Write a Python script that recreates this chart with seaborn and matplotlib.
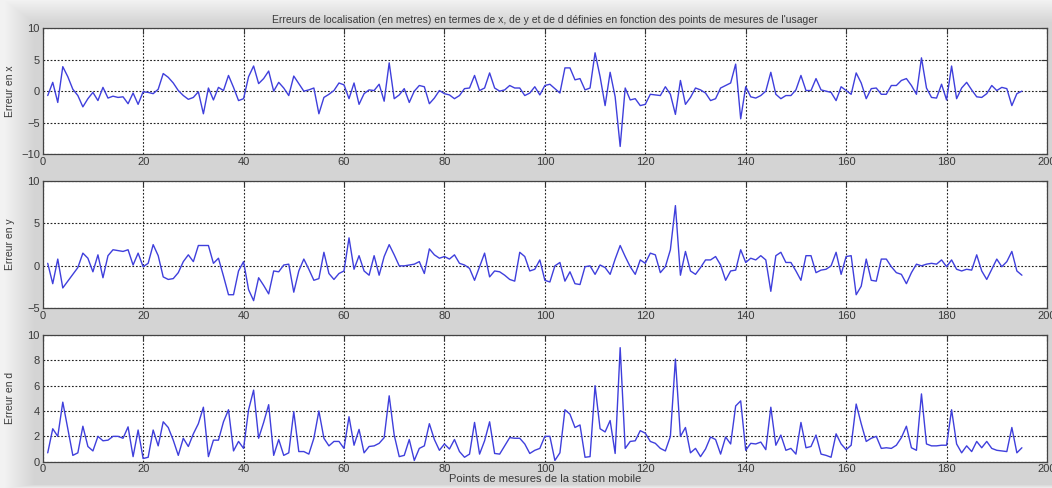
import numpy as np
import pandas as pd
import matplotlib
matplotlib.use("Agg")
import matplotlib.pyplot as plt
import seaborn as sns

# Localisation errors (metres) per measurement point of the mobile station
points = list(range(1, 196))

err_x = [
    -0.7, 1.4, -1.8, 3.9, 2.3, 0.3, -0.7, -2.5, -1.2, -0.2,
    -1.5, 0.6, -1.1, -0.8, -1.0, -0.9, -2.0, -0.3, -2.1, -0.1,
    -0.2, -0.4, 0.3, 2.8, 2.2, 1.3, 0.1, -0.7, -1.3, -1.0,
    -0.1, -3.6, 0.5, -1.4, 0.6, 0.1, 2.5, 0.6, -1.5, -1.2,
    2.3, 4.0, 1.2, 2.0, 3.2, 0.0, 1.4, 0.5, -0.7, 2.4,
    1.2, 0.0, 0.2, 0.5, -3.6, -1.0, -0.5, 0.1, 1.3, 1.0,
    -1.2, 1.3, -2.1, -0.4, 0.2, 0.1, 1.1, -1.6, 4.5, -1.2,
    -0.6, 0.4, -1.8, 0.0, 0.9, 0.7, -2.0, -1.1, 0.1, -0.4,
    -0.6, -1.2, -0.7, 0.4, 0.5, 2.5, 0.1, 0.5, 2.9, 0.5,
    0.0, 0.2, 0.9, 0.5, 0.5, -0.7, -0.3, 0.7, -0.6, 0.9,
    1.1, 0.4, -0.3, 3.7, 3.7, 1.8, 2.0, 0.2, 0.5, 6.1,
    2.3, -2.3, 3.0, -0.9, -8.8, 0.5, -1.4, -1.2, -2.3, -2.1,
    -0.5, -0.6, -0.7, 0.7, -0.5, -3.7, 1.7, -2.1, -1.0, 0.5,
    0.2, -0.3, -1.5, -1.2, 0.5, 0.9, 1.3, 4.3, -4.4, 0.7,
    -0.9, -1.1, -0.7, 0.0, 3.0, -0.5, -1.2, -0.7, -0.7, 0.2,
    2.5, 0.1, 0.1, 2.0, 0.2, 0.0, -0.2, -1.5, 0.7, 0.1,
    -0.5, 2.9, 1.3, -1.2, 0.4, 0.5, -0.5, -0.5, 0.9, 0.9,
    1.7, 2.0, 0.9, -0.5, 5.3, 0.5, -1.0, -1.1, 1.1, -1.4,
    4.0, -1.2, 0.5, 1.4, 0.2, -0.9, -1.0, -0.4, 0.9, 0.1,
    0.6, 0.4, -2.3, -0.4, 0.0,
]

err_y = [
    0.3, -2.1, 0.8, -2.6, -1.8, -1.0, -0.2, 1.5, 0.9, -0.7,
    1.3, -1.4, 1.2, 1.9, 1.8, 1.7, 1.9, 0.1, 1.5, -0.1,
    0.3, 2.5, 1.2, -1.3, -1.6, -1.5, -0.8, 0.5, 1.3, 0.5,
    2.4, 2.4, 2.4, 0.3, 0.9, -1.2, -3.4, -3.4, -0.6, 0.5,
    -2.8, -4.1, -1.4, -2.3, -3.3, -0.6, -0.7, 0.1, 0.2, -3.1,
    -0.6, 0.8, -0.4, -1.7, -1.5, 1.6, -0.9, -1.6, -0.9, -0.6,
    3.3, -0.4, 1.2, -0.6, -1.1, 1.2, -1.1, 1.1, 2.5, 1.3,
    0.0, 0.0, 0.1, 0.2, 0.5, -0.9, 2.0, 1.3, 0.9, 1.1,
    0.8, 1.3, 0.3, 0.1, -0.3, -1.7, -0.1, 1.5, -1.3, -0.6,
    -0.7, -1.1, -1.6, -1.8, 1.6, 1.1, -0.6, -0.4, 0.7, -1.7,
    -1.9, 0.0, 0.4, -1.8, -0.7, -2.1, -2.2, -0.1, 0.0, -1.0,
    0.1, -0.2, -1.0, 0.8, 2.4, 1.1, -0.1, -1.0, 0.7, 0.3,
    1.5, 1.3, -0.8, -0.1, 1.9, 7.1, -1.1, 1.7, -0.6, -1.0,
    -0.2, 0.7, 0.7, 1.1, 0.1, -1.7, -0.6, -0.5, 1.9, 0.4,
    0.9, 0.7, 1.2, 0.7, -3.0, 1.2, 1.6, 0.4, 0.4, -0.6,
    -1.7, 1.2, 1.2, -0.8, -0.5, -0.4, 0.0, 1.6, -1.0, 1.1,
    1.2, -3.4, -2.4, 0.8, -1.7, -1.8, 0.8, 0.8, -0.1, -0.8,
    -1.0, -2.1, -0.8, 0.2, 0.0, 0.2, 0.3, 0.2, 0.7, -0.1,
    0.7, -0.4, -0.6, -0.4, -0.5, 1.3, -0.6, -1.6, -0.4, 0.8,
    -0.1, 0.5, 1.7, -0.6, -1.1,
]

err_d = [
    0.7, 2.6, 2.0, 4.7, 2.6, 0.5, 0.7, 2.8, 1.2, 0.85,
    2.0, 1.65, 1.7, 2.0, 2.0, 1.85, 2.75, 0.4, 2.5, 0.25,
    0.35, 2.5, 1.25, 3.15, 2.7, 1.7, 0.5, 1.85, 1.2, 2.2,
    3.0, 4.3, 0.4, 1.7, 1.7, 3.15, 4.1, 0.85, 1.6, 1.05,
    4.1, 5.65, 1.85, 3.1, 4.5, 0.5, 1.75, 0.5, 0.7, 3.95,
    0.8, 0.8, 0.6, 1.85, 4.0, 1.85, 1.25, 1.6, 1.6, 1.05,
    3.55, 1.3, 2.55, 0.7, 1.2, 1.25, 1.45, 1.9, 5.2, 2.1,
    0.4, 0.5, 1.75, 0.1, 1.05, 1.25, 3.0, 1.75, 0.9, 1.4,
    1.0, 1.75, 0.8, 0.35, 0.6, 3.1, 0.6, 1.65, 3.15, 0.65,
    0.6, 1.25, 1.9, 1.85, 1.85, 1.4, 0.65, 0.9, 1.05, 2.0,
    2.0, 0.1, 0.7, 4.1, 3.75, 2.7, 2.9, 0.35, 0.4, 6.0,
    2.6, 2.35, 3.25, 0.65, 9.0, 1.05, 1.6, 1.65, 2.45, 2.25,
    1.6, 1.45, 1.05, 0.85, 2.0, 8.1, 2.0, 2.7, 0.7, 1.05,
    0.4, 1.0, 1.95, 1.75, 0.6, 1.95, 1.4, 4.4, 4.8, 0.9,
    1.45, 1.4, 1.55, 0.95, 4.3, 1.3, 2.1, 0.9, 1.05, 0.6,
    3.1, 1.1, 1.2, 2.1, 0.6, 0.5, 0.35, 2.2, 1.4, 0.95,
    1.3, 4.55, 3.0, 1.6, 1.85, 2.0, 1.05, 1.1, 1.05, 1.3,
    1.9, 2.8, 1.1, 0.9, 5.35, 1.4, 1.25, 1.25, 1.3, 1.3,
    4.1, 1.4, 0.7, 1.25, 0.8, 1.6, 1.1, 1.6, 1.05, 0.9,
    0.85, 0.8, 2.7, 0.7, 1.1,
]

x_ticks = [0, 20, 40, 60, 80, 100, 120, 140, 160, 180, 200]
y_ticks_x = [-10, -5, 0, 5, 10]
y_ticks_y = [-5, 0, 5, 10]
y_ticks_d = [0, 2, 4, 6, 8, 10]

title_text = ("Erreurs de localisation (en metres) en termes de x, de y et de d "
              "définies en fonction des points de mesures de l'usager")
xlabel_text = "Points de mesures de la station mobile"
ylabels = ["Erreur en x", "Erreur en y", "Erreur en d"]

df = pd.DataFrame({"point": points, "ex": err_x, "ey": err_y, "ed": err_d})

sns.set_theme(style="white")
plt.rcParams["font.family"] = ["Liberation Sans", "DejaVu Sans"]

W, H = 1052, 488
fig = plt.figure(figsize=(W / 100, H / 100), dpi=100)
fig.patch.set_facecolor("#d5d5d5")

# soft lighter frame around the grey panel
bg = fig.add_axes([0, 0, 1, 1], zorder=-10)
yy, xx = np.mgrid[0:H, 0:W]
left = np.clip((34 - xx) / 30.0, 0, 1)
top = np.clip((22 - yy) / 22.0, 0, 1)
bottom = np.clip((yy - 484) / 4.0, 0, 1)
shade = np.maximum.reduce([left, top, bottom])
val = 0.835 + (0.95 - 0.835) * shade
bg.imshow(np.dstack([val, val, val]), aspect="auto", extent=[0, 1, 0, 1],
          interpolation="bilinear")
bg.set_axis_off()

line_color = "#3f3fdc"
text_color = "#3a3a3a"

ax_rects = [
    [42.7 / W, 1 - 154 / H, (1047 - 42.7) / W, (154 - 28.3) / H],
    [42.7 / W, 1 - 308.3 / H, (1047 - 42.7) / W, (308.3 - 181) / H],
    [42.7 / W, 1 - 461.7 / H, (1047 - 42.7) / W, (461.7 - 335) / H],
]
cols = ["ex", "ey", "ed"]
ylims = [(-10, 10), (-5, 10), (0, 10)]
yticks = [y_ticks_x, y_ticks_y, y_ticks_d]

axes = []
for rect, col, ylim, yt, ylab in zip(ax_rects, cols, ylims, yticks, ylabels):
    ax = fig.add_axes(rect)
    ax.set_facecolor("white")
    sns.lineplot(data=df, x="point", y=col, ax=ax, color=line_color,
                 linewidth=1.0, estimator=None)
    ax.set_xlim(0, 200)
    ax.set_ylim(*ylim)
    ax.set_xticks(x_ticks)
    ax.set_yticks(yt)
    ax.grid(True, color="#222222", linestyle=(0, (1.6, 1.6)), linewidth=0.8)
    ax.tick_params(direction="in", length=4, width=0.8, top=True, right=True,
                   labelsize=8, colors="#333333", pad=2)
    for lab in ax.get_xticklabels() + ax.get_yticklabels():
        lab.set_color(text_color)
    for sp in ax.spines.values():
        sp.set_color("#444444")
        sp.set_linewidth(0.9)
    ax.set_xlabel("")
    ax.set_ylabel(ylab, fontsize=7.5, color=text_color, labelpad=4)
    axes.append(ax)

axes[0].set_title(title_text, fontsize=7.5, color=text_color, pad=4)
axes[2].set_xlabel(xlabel_text, fontsize=8, color=text_color, labelpad=0)
for ax in axes:
    ax.yaxis.set_label_coords(-0.028, 0.5)

fig.savefig("out.png", dpi=100, facecolor=fig.get_facecolor())
